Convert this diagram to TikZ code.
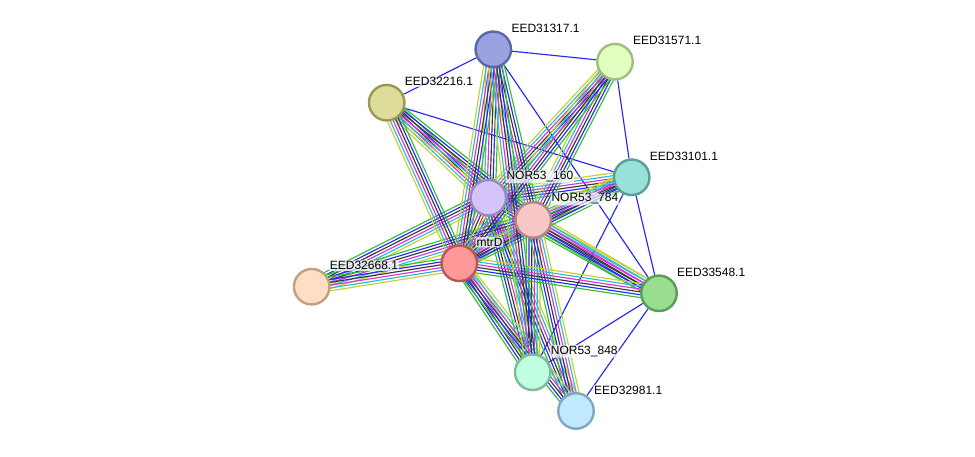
\documentclass[tikz,border=0pt]{standalone}
\usepackage{fontspec}
\setmainfont{Liberation Sans}
\usetikzlibrary{calc,backgrounds}
\definecolor{evnb}{RGB}{50,190,50}
\definecolor{evfu}{RGB}{240,40,40}
\definecolor{evco}{RGB}{40,40,245}
\definecolor{evcx}{RGB}{55,55,55}
\definecolor{evex}{RGB}{215,50,215}
\definecolor{evdb}{RGB}{45,185,220}
\definecolor{evtm}{RGB}{195,210,45}
\definecolor{b31317}{RGB}{92,102,168}\definecolor{f31317}{RGB}{153,163,224}
\definecolor{b31571}{RGB}{160,190,128}\definecolor{f31571}{RGB}{224,255,192}
\definecolor{b32216}{RGB}{153,153,85}\definecolor{f32216}{RGB}{221,221,153}
\definecolor{b33101}{RGB}{90,158,152}\definecolor{f33101}{RGB}{153,224,216}
\definecolor{b160}{RGB}{154,136,192}\definecolor{f160}{RGB}{212,196,250}
\definecolor{b784}{RGB}{184,133,133}\definecolor{f784}{RGB}{248,200,200}
\definecolor{bmtrd}{RGB}{192,85,85}\definecolor{fmtrd}{RGB}{255,153,153}
\definecolor{b32668}{RGB}{192,160,128}\definecolor{f32668}{RGB}{255,222,196}
\definecolor{b33548}{RGB}{90,158,85}\definecolor{f33548}{RGB}{153,221,144}
\definecolor{b848}{RGB}{127,187,153}\definecolor{f848}{RGB}{192,255,224}
\definecolor{b32981}{RGB}{128,168,192}\definecolor{f32981}{RGB}{192,232,255}
\newcommand\bundle[3]{%
  \foreach \cc [count=\ii] in {#3} {\xdef\bundlen{\ii}}%
  \foreach \cc [count=\ii] in {#3} {%
    \pgfmathsetmacro\off{(\ii-(\bundlen+1)/2)*2.8}%
    \draw[\cc, edgeline] ($(#1)!\off pt!90:(#2)$) -- ($(#2)!\off pt!-90:(#1)$);
  }%
}
\newcommand\single[2]{\draw[evco, edgeline] (#1) -- (#2);}
\tikzset{
  edgeline/.style={line width=1.15pt},
  prot/.style={circle, minimum size=35.5pt, inner sep=0pt, line width=2.4pt, draw=b#1, fill=f#1},
  plabel/.style={anchor=west, inner sep=1pt, fill=white, fill opacity=0.7, text opacity=1, rounded corners=2pt, font=\fontsize{12}{14}\selectfont, text=black}
}
\begin{document}
\begin{tikzpicture}[x=1pt,y=-1pt]
\useasboundingbox (0,0) rectangle (975,457);
% proteins
\node[prot=31317] (e31317) at (493.3,49.3) {};
\node[prot=31571] (e31571) at (615,61.7) {};
\node[prot=32216] (e32216) at (386.7,102.7) {};
\node[prot=33101] (e33101) at (631.7,177.3) {};
\node[prot=160] (n160) at (488.3,197.7) {};
\node[prot=784] (n784) at (533.3,220) {};
\node[prot=mtrd] (mtrd) at (459.3,263.3) {};
\node[prot=32668] (e32668) at (311.7,286.7) {};
\node[prot=33548] (e33548) at (659,293.3) {};
\node[prot=848] (n848) at (532.7,372.3) {};
\node[prot=32981] (e32981) at (576,411) {};
% labels
\node[plabel] (l31317) at ([shift={(17,-21)}]e31317.center) {EED31317.1};
\node[plabel] (l31571) at ([shift={(17,-21)}]e31571.center) {EED31571.1};
\node[plabel] (l32216) at ([shift={(17,-21)}]e32216.center) {EED32216.1};
\node[plabel] (l33101) at ([shift={(17,-21)}]e33101.center) {EED33101.1};
\node[plabel] (l160) at ([shift={(17,-21)}]n160.center) {NOR53\_160};
\node[plabel] (l784) at ([shift={(17,-21)}]n784.center) {NOR53\_784};
\node[plabel] (lmtrd) at ([shift={(16,-21)}]mtrd.center) {mtrD};
\node[plabel] (l32668) at ([shift={(17,-21)}]e32668.center) {EED32668.1};
\node[plabel] (l33548) at ([shift={(17,-21)}]e33548.center) {EED33548.1};
\node[plabel] (l848) at ([shift={(17,-21)}]n848.center) {NOR53\_848};
\node[plabel] (l32981) at ([shift={(17,-21)}]e32981.center) {EED32981.1};
\begin{pgfonlayer}{background}
% single co-occurrence links
\single{e31317}{e32216}
\single{e31317}{e31571}
\single{e31317}{e33548}
\single{e32216}{e33101}
\single{e31571}{e33101}
\single{e33101}{e33548}
\single{e33101}{n848}
\single{e33548}{n848}
\single{e33548}{e32981}
% hub
\bundle{n160}{n784}{evtm,evdb,evex,evcx,evfu,evco,evnb}
\bundle{n160}{mtrd}{evtm,evdb,evex,evcx,evfu,evco,evnb}
\bundle{n784}{mtrd}{evtm,evdb,evex,evcx,evco,evnb}
% spokes
\foreach \hub in {n160,n784,mtrd}{
  \foreach \sp in {e31317,e31571,e32216,e33101,e32668,e33548,n848,e32981}{
    \bundle{\sp}{\hub}{evtm,evdb,evex,evcx,evco,evnb}
  }
}
\bundle{e31317}{n848}{evtm,evdb,evex,evcx,evco,evnb}
\end{pgfonlayer}
\end{tikzpicture}
\end{document}
